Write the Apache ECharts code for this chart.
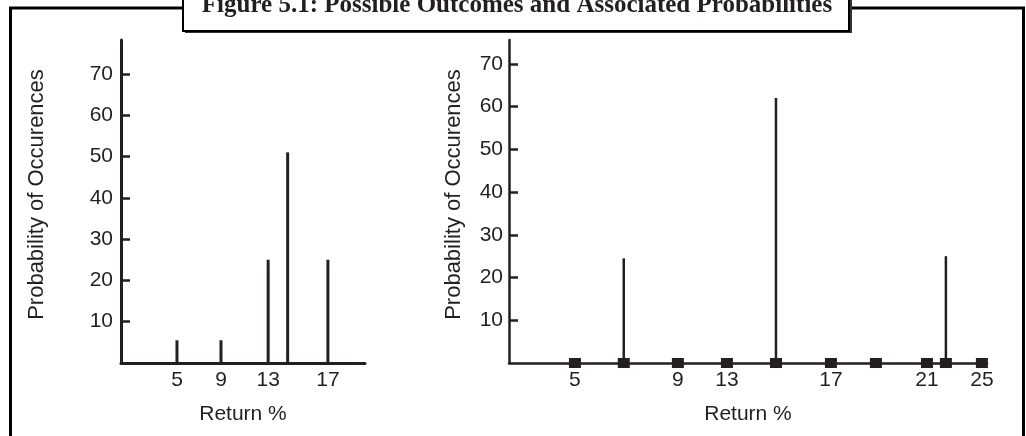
<!DOCTYPE html>
<html><head><meta charset="utf-8">
<script src="https://cdn.jsdelivr.net/npm/echarts@6/dist/echarts.min.js"></script>
<style>html,body{margin:0;padding:0;background:#fff}#c{width:1026px;height:436px}</style>
</head><body><div id="c"></div>
<script>
// ---- data (x values are positions along each drawn Return % axis) ----
const titleText = 'Figure 5.1: Possible Outcomes and Associated Probabilities';
const yName = 'Probability of Occurences';
const xName = 'Return %';
const yTicks = [10, 20, 30, 40, 50, 60, 70];

// left panel
const leftPos = [5, 8.5, 12.25, 13.8, 17];
const leftProb = [5.5, 5.5, 25, 51, 25];
const leftTickPos = [5, 8.5, 12.25, 17];
const leftTickLabels = ['5', '9', '13', '17'];

// right panel
const rightMarkerPos = [5, 7.4, 10.06, 12.47, 14.88, 17.58, 19.79, 22.3, 23.23, 25];
const rightStemPos = [7.4, 14.88, 23.23];
const rightStemProb = [24.5, 62, 25];
const rightTickPos = [5, 10.06, 12.47, 17.58, 22.3, 25];
const rightTickLabels = ['5', '9', '13', '17', '21', '25'];

const ink = '#231f20';
const font = 'Liberation Sans, Arial, sans-serif';

function labelFor(posArr, labArr) {
  return v => { let bi = 0, bd = 1e9; posArr.forEach((p, i) => { const d = Math.abs(p - v); if (d < bd) { bd = d; bi = i; } }); return labArr[bi]; };
}

function xAxis(gi, min, max, pos, labs) {
  return {
    type: 'value', gridIndex: gi, min, max,
    name: xName, nameLocation: 'middle', nameGap: 41,
    nameTextStyle: { color: ink, fontSize: 21, fontFamily: font },
    axisLine: { show: true, onZero: false, lineStyle: { color: ink, width: gi === 0 ? 3 : 2.5 } },
    axisTick: { show: false },
    splitLine: { show: false },
    axisLabel: { customValues: pos, formatter: labelFor(pos, labs), color: ink, fontSize: 21, fontFamily: font, margin: 7 }
  };
}
function yAxis(gi, max, gap, margin) {
  return {
    type: 'value', gridIndex: gi, min: 0, max,
    name: yName, nameLocation: 'middle', nameGap: gap, nameRotate: 90,
    nameTextStyle: { color: ink, fontSize: 22, fontFamily: font, padding: [0, 0, 0, 14] },
    axisLine: { show: true, lineStyle: { color: ink, width: gi === 0 ? 3 : 2.5 } },
    axisTick: { show: true, inside: true, length: 9, customValues: yTicks, lineStyle: { color: ink, width: 2.5 } },
    splitLine: { show: false },
    axisLabel: { customValues: yTicks, color: ink, fontSize: 21, fontFamily: font, margin }
  };
}

const chart = echarts.init(document.getElementById('c'), null, { renderer: 'canvas' });
chart.setOption({
  animation: false,
  backgroundColor: '#fff',
  grid: [
    { left: 121, width: 244, top: 40, height: 323 },
    { left: 509, width: 478, top: 40, height: 323 }
  ],
  xAxis: [xAxis(0, 0.55, 19.95, leftTickPos, leftTickLabels), xAxis(1, 1.76, 25.25, rightTickPos, rightTickLabels)],
  yAxis: [yAxis(0, 78.2, 73, 8), yAxis(1, 75.6, 44, 6)],
  series: [
    {
      type: 'bar', xAxisIndex: 0, yAxisIndex: 0, barWidth: 3,
      itemStyle: { color: ink },
      data: leftPos.map((x, i) => [x, leftProb[i]])
    },
    {
      type: 'bar', xAxisIndex: 1, yAxisIndex: 1, barWidth: 2.5,
      itemStyle: { color: ink },
      data: rightStemPos.map((x, i) => [x, rightStemProb[i]])
    },
    {
      type: 'scatter', xAxisIndex: 1, yAxisIndex: 1,
      symbol: 'rect', symbolSize: [12, 10],
      itemStyle: { color: ink, opacity: 1 },
      data: rightMarkerPos.map(x => [x, 0]),
      z: 5
    }
  ],
  graphic: [
    { type: 'polyline', shape: { points: [[10.5, 436], [10.5, 8], [1023.5, 8], [1023.5, 436]] }, style: { stroke: '#000', lineWidth: 3, fill: null }, z: 1 },
    { type: 'rect', shape: { x: 185, y: -6, width: 667, height: 39 }, style: { fill: '#333', stroke: null }, z: 2 },
    { type: 'rect', shape: { x: 183, y: -8, width: 666, height: 39 }, style: { fill: '#fff', stroke: '#000', lineWidth: 2 }, z: 3 },
    { type: 'text', x: 517, y: 18.5, style: { text: titleText, font: 'bold 25px "Liberation Serif", "DejaVu Serif", serif', fill: ink, align: 'center', verticalAlign: 'bottom' }, z: 4 }
  ]
});
</script></body></html>
